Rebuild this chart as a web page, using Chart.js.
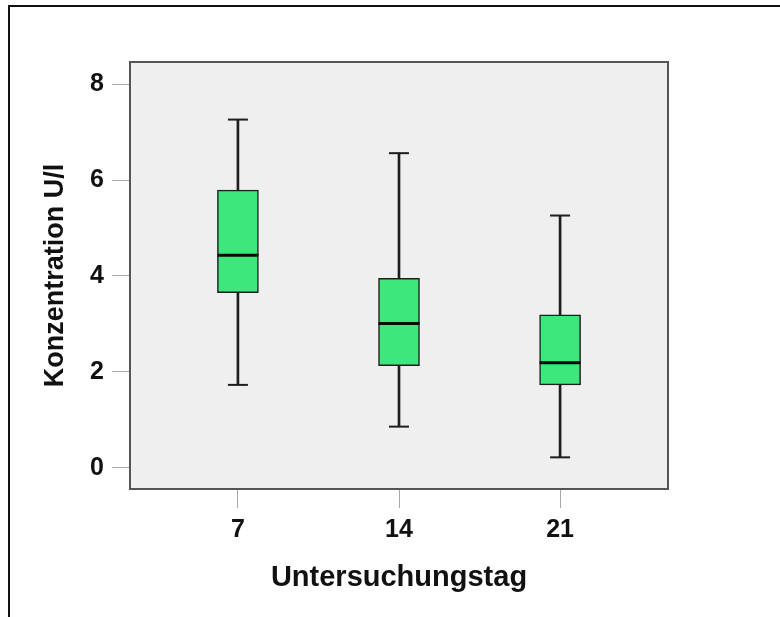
<!DOCTYPE html>
<html>
<head>
<meta charset="utf-8">
<script src="https://cdn.jsdelivr.net/npm/chart.js@4.4.0/dist/chart.umd.min.js"></script>
<style>
  html, body { margin: 0; padding: 0; background: #fff; }
  canvas { display: block; }
</style>
</head>
<body>
<canvas id="boxChart" width="780" height="617"></canvas>
<script>
// Box plot statistics per Untersuchungstag
const days = ['7', '14', '21'];
const whiskerLow = [1.73, 0.86, 0.22];
const quartile1 = [3.65, 2.13, 1.73];
const median = [4.43, 3.01, 2.19];
const quartile3 = [5.79, 3.95, 3.19];
const whiskerHigh = [7.26, 6.56, 5.26];
const yTicks = [0, 2, 4, 6, 8];

const colors = {
    box: '#3ee77c',
    line: '#1e1e1e',
    panel: '#efefef',
    frame: '#555555',
    tick: '#aaaaaa',
    text: '#111111'
};

const family = "'Liberation Sans', Arial, sans-serif";

// build points for the library from the arrays above
const span = (lo, hi) => days.map((d, i) => ({ x: i, y: [lo[i], hi[i]] }));
const points = (arr) => days.map((d, i) => ({ x: i, y: arr[i] }));

// grey panel behind the plot, frame around it and the page border
const panel = {
    id: 'panel',
    beforeDraw(chart) {
        const { ctx, chartArea: a } = chart;
        ctx.save();
        ctx.fillStyle = colors.panel;
        ctx.fillRect(a.left, a.top, a.right - a.left, a.bottom - a.top);
        ctx.strokeStyle = '#111';
        ctx.lineWidth = 2;
        ctx.beginPath();
        ctx.moveTo(9, 617);
        ctx.lineTo(9, 6);
        ctx.lineTo(780, 6);
        ctx.stroke();
        ctx.restore();
    },
    afterDraw(chart) {
        const { ctx, chartArea: a } = chart;
        ctx.save();
        ctx.strokeStyle = colors.frame;
        ctx.lineWidth = 2;
        ctx.strokeRect(a.left, a.top, a.right - a.left, a.bottom - a.top);
        ctx.restore();
    }
};

const capStyle = {
    type: 'line',
    showLine: false,
    pointStyle: 'line',
    pointRadius: 10,
    pointBorderWidth: 2,
    pointBorderColor: colors.line,
    order: 1
};

new Chart(document.getElementById('boxChart'), {
    type: 'bar',
    data: {
        datasets: [
            // lower and upper whiskers
            { data: span(whiskerLow, quartile1), backgroundColor: colors.line, barThickness: 2, grouped: false, order: 3 },
            { data: span(quartile3, whiskerHigh), backgroundColor: colors.line, barThickness: 2, grouped: false, order: 3 },
            // boxes
            {
                data: span(quartile1, quartile3),
                backgroundColor: colors.box,
                borderColor: colors.line,
                borderWidth: 1.5,
                borderSkipped: false,
                barThickness: 41,
                grouped: false,
                order: 2
            },
            // medians and whisker caps
            { ...capStyle, data: points(median), pointRadius: 20.5, pointBorderWidth: 3, pointBorderColor: '#0a0a0a', order: 0 },
            { ...capStyle, data: points(whiskerHigh) },
            { ...capStyle, data: points(whiskerLow) }
        ]
    },
    options: {
        responsive: false,
        animation: false,
        events: [],
        layout: { padding: { left: 0, top: 62, right: 112, bottom: 0 } },
        plugins: {
            legend: { display: false },
            tooltip: { enabled: false }
        },
        scales: {
            x: {
                type: 'linear',
                min: -0.67,
                max: 2.67,
                offset: false,
                afterFit: (s) => { s.height = 128; },
                afterBuildTicks: (s) => { s.ticks = days.map((d, i) => ({ value: i })); },
                ticks: {
                    callback: (v) => days[v],
                    font: { family, size: 25, weight: 'bold' },
                    color: colors.text,
                    padding: 7,
                    maxRotation: 0,
                    autoSkip: false
                },
                grid: { drawOnChartArea: false, offset: false, tickLength: 19, color: colors.tick },
                border: { display: false },
                title: {
                    display: true,
                    text: 'Untersuchungstag',
                    font: { family, size: 29, weight: 'bold' },
                    color: colors.text,
                    padding: { top: 0, bottom: 22 }
                }
            },
            y: {
                min: -0.44,
                max: 8.46,
                afterFit: (s) => { s.width = 130; },
                afterBuildTicks: (s) => { s.ticks = yTicks.map((v) => ({ value: v })); },
                ticks: {
                    font: { family, size: 25, weight: 'bold' },
                    color: colors.text,
                    padding: 8
                },
                grid: { drawOnChartArea: false, tickLength: 18, color: colors.tick },
                border: { display: false },
                title: {
                    display: true,
                    text: 'Konzentration U/l',
                    font: { family, size: 27, weight: 'bold' },
                    color: colors.text,
                    padding: { top: 39, bottom: 0 }
                }
            }
        }
    },
    plugins: [panel]
});
</script>
</body>
</html>
